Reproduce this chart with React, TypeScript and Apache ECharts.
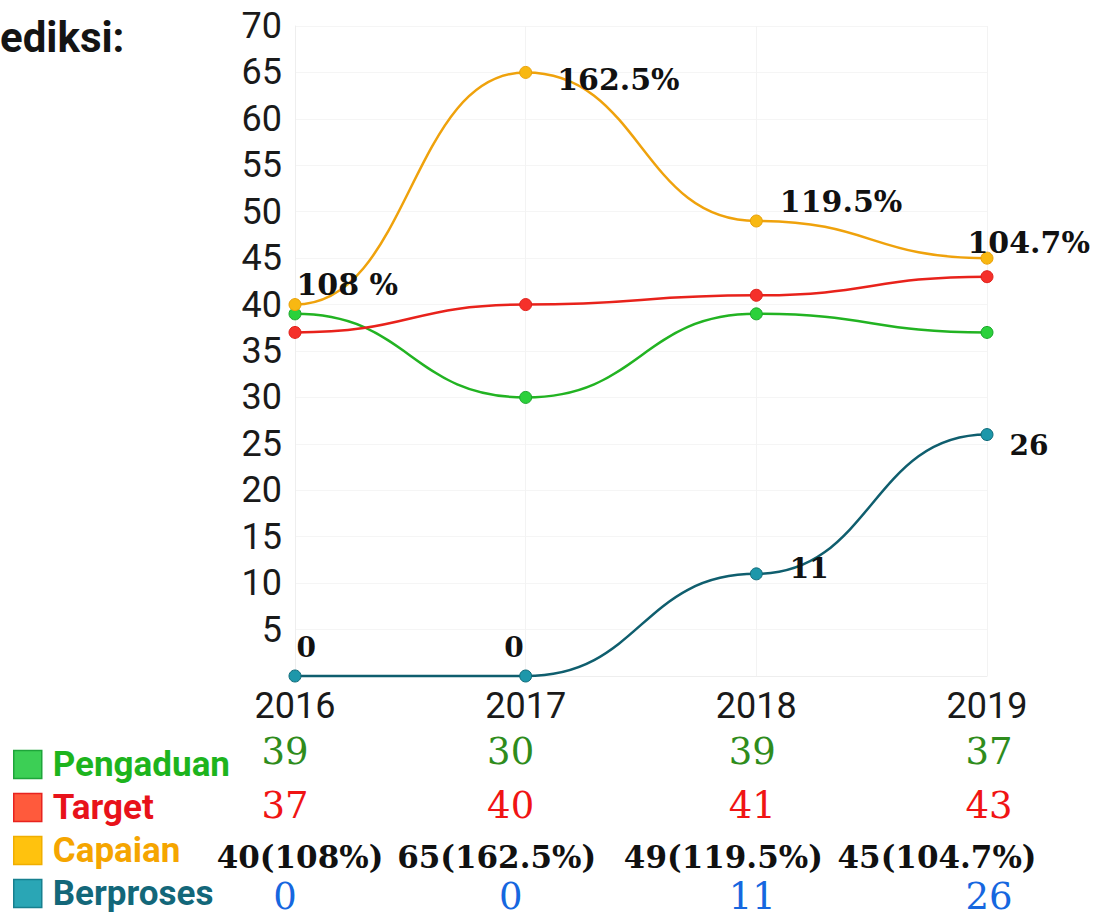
import React, { useEffect, useRef } from "react";
import * as echarts from "echarts";

const years = ["2016", "2017", "2018", "2019"];
const pengaduan = [39, 30, 39, 37];
const target = [37, 40, 41, 43];
const capaian = [40, 65, 49, 45];
const berproses = [0, 0, 11, 26];
const capaianPctLabels = ["108 %", "162.5%", "119.5%", "104.7%"];
const capaianPctTable = ["108%", "162.5%", "119.5%", "104.7%"];
const seriesNames = ["Pengaduan", "Target", "Capaian", "Berproses"];
const titleText = "ediksi:";

// styling / layout constants
const lineColors = ["#22b322", "#e8221b", "#efa20c", "#0f5e6e"];
const markerColors = ["#2bd13b", "#f5302a", "#f8b812", "#1d97aa"];
const markerBorders = ["#1aa52a", "#e0201a", "#e9a10a", "#0f6b7a"];
const legendFill = ["#3ccf55", "#ff5a3c", "#ffc20e", "#2aa6b5"];
const legendBorder = ["#1ea53a", "#e8231f", "#f0ae00", "#17808f"];
const legendText = ["#1db41d", "#e8121a", "#f5a500", "#136779"];
const tableColors = ["#2f8c1c", "#f01414", "#111111", "#1667df"];
const capLabelPos = [[8, -14], [38, 14], [30, -13], [-13, -9]];
const berLabelPos = [[8, -22], [-15, -22], [40, 1], [29, 17]];
const tableRowY = [751, 805, 857, 896];
const numColDx = [-10, -15, -4, 2];
const capColDx = [5, -29, -33, -50];
const SMOOTH_K = 0.5;

export default function App() {
  const ref = useRef<HTMLDivElement>(null);
  useEffect(() => {
    document.body.style.margin = "0";
    if (!ref.current) return;
    const chart = echarts.init(ref.current, null, { renderer: "svg" });
    const valuesRows = [pengaduan, target, capaian, berproses];

    // smooth curve (horizontal tangents at each point) as a custom series
    const makeCurve = (i: number) => {
      const vals = valuesRows[i];
      return {
        name: seriesNames[i] + " line",
        type: "custom",
        data: vals.map((v, j) => [j, v]),
        encode: { x: 0, y: 1 },
        clip: false,
        silent: true,
        z: 1 + i,
        renderItem: (params: any, api: any) => {
          const j = params.dataIndex;
          if (j >= vals.length - 1) return null;
          const p0 = api.coord([j, vals[j]]);
          const p1 = api.coord([j + 1, vals[j + 1]]);
          const dx = p1[0] - p0[0];
          const d = `M${p0[0]} ${p0[1]} C${p0[0] + dx * SMOOTH_K} ${p0[1]} ${p1[0] - dx * SMOOTH_K} ${p1[1]} ${p1[0]} ${p1[1]}`;
          return {
            type: "path",
            shape: { pathData: d },
            style: { fill: "none", stroke: lineColors[i], lineWidth: 2.5 },
          };
        },
      };
    };

    const makeSeries = (i: number) => {
      const vals = valuesRows[i];
      const data = vals.map((v, j) => {
        if (i === 2) {
          return {
            value: v,
            label: {
              show: true,
              formatter: capaianPctLabels[j],
              position: capLabelPos[j],
              align: "left",
              verticalAlign: "middle",
            },
          };
        }
        if (i === 3) {
          return {
            value: v,
            label: {
              show: true,
              formatter: String(v),
              position: berLabelPos[j],
              align: "left",
              verticalAlign: "middle",
              fontSize: 28,
            },
          };
        }
        return { value: v };
      });
      return {
        name: seriesNames[i],
        type: "line",
        data,
        symbol: "circle",
        symbolSize: 12,
        lineStyle: { width: 0, opacity: 0 },
        itemStyle: { color: markerColors[i], borderColor: markerBorders[i], borderWidth: 1 },
        label: {
          show: false,
          color: "#111",
          fontFamily: "DejaVu Serif",
          fontWeight: "bold",
          fontSize: 30,
        },
        emphasis: { disabled: true },
        z: 10 + i,
      };
    };

    const option: any = {
      animation: false,
      backgroundColor: "#ffffff",
      grid: { left: 295, right: 116, top: 26, bottom: 240, containLabel: false },
      xAxis: {
        type: "category",
        data: years,
        boundaryGap: false,
        axisLine: { show: true, lineStyle: { color: "#eeeeee", width: 1 } },
        axisTick: { show: false },
        splitLine: { show: true, lineStyle: { color: "#f3f3f3", width: 1 } },
        axisLabel: {
          color: "#1a1a1a",
          fontFamily: "Roboto",
          fontSize: 36,
          margin: 12,
        },
      },
      yAxis: {
        type: "value",
        min: 0,
        max: 70,
        interval: 5,
        axisLine: { show: true, lineStyle: { color: "#eeeeee", width: 1 } },
        axisTick: { show: false },
        splitLine: { show: true, lineStyle: { color: "#f5f5f5", width: 1 } },
        axisLabel: {
          color: "#1a1a1a",
          fontFamily: "Roboto",
          fontSize: 36,
          margin: 13,
          formatter: (v: number) => (v === 0 ? "" : String(v)),
        },
      },
      legend: {
        orient: "vertical",
        left: 13,
        top: 747,
        width: 260,
        height: 400,
        padding: 0,
        itemWidth: 28,
        itemHeight: 28,
        itemGap: 8,
        icon: "rect",
        selectedMode: false,
        textStyle: {
          fontFamily: "Roboto",
          fontWeight: "bold",
          fontSize: 35,
          lineHeight: 28,
          padding: [0, 0, 0, 6],
        },
        data: seriesNames.map((n, i) => ({
          name: n,
          itemStyle: { color: legendFill[i], borderColor: legendBorder[i], borderWidth: 1.5 },
          textStyle: { color: legendText[i] },
        })),
      },
      series: [
        ...[0, 1, 2, 3].map(makeCurve),
        ...[0, 1, 2, 3].map(makeSeries),
      ],
    };
    chart.setOption(option);

    const graphics: any[] = [
      {
        type: "text",
        left: 0,
        top: 16,
        style: {
          text: titleText,
          fill: "#141414",
          font: "bold 42px Roboto",
        },
      },
    ];
    years.forEach((y, j) => {
      const px = chart.convertToPixel({ xAxisIndex: 0 }, y) as number;
      valuesRows.forEach((row, r) => {
        const isCap = r === 2;
        const txt = isCap ? `${row[j]}(${capaianPctTable[j]})` : String(row[j]);
        graphics.push({
          type: "text",
          x: px + (isCap ? capColDx[j] : numColDx[j]),
          y: tableRowY[r],
          style: {
            text: txt,
            fill: tableColors[r],
            font: isCap ? "bold 31px 'DejaVu Serif'" : "37px 'DejaVu Serif'",
            textAlign: "center",
            textVerticalAlign: "middle",
          },
        });
      });
    });
    chart.setOption({ graphic: graphics });

    return () => chart.dispose();
  }, []);
  return <div ref={ref} style={{ width: 1103, height: 916 }} />;
}
